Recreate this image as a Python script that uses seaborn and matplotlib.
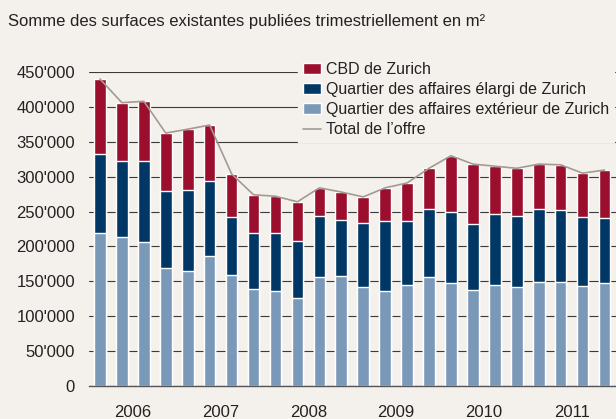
import matplotlib
matplotlib.use("Agg")
import matplotlib.pyplot as plt
import matplotlib.ticker as mticker
import numpy as np
import seaborn as sns

# quarterly values 2006 Q1 .. 2011 Q4 (m2)
quarters = [f"{y} T{q}" for y in range(2006, 2012) for q in range(1, 5)]
years = ["2006", "2007", "2008", "2009", "2010", "2011"]
exterieur = [219000, 213500, 206000, 169000, 165000, 186000, 159000, 139000,
             136000, 126000, 156000, 158000, 142000, 136000, 145000, 156000,
             148000, 138000, 145000, 142000, 149000, 149000, 143000, 148000]
elargi = [113500, 108500, 116000, 110500, 116000, 108000, 83000, 80000,
          83000, 82000, 88000, 80000, 92000, 100500, 91500, 98000,
          101000, 94000, 101500, 101500, 105000, 103000, 99000, 93000]
cbd = [107500, 84000, 86000, 83000, 87000, 80000, 62000, 55000,
       53000, 56000, 40000, 40000, 37000, 47500, 54500, 58000,
       81000, 86000, 68500, 68500, 64000, 65000, 63000, 68500]

bg = "#F4F0EC"
red = "#9B0E2D"
dark = "#003764"
light = "#7A99B8"
grey_line = "#A39A92"

sns.set_style("white")
plt.rcParams["font.family"] = ["Liberation Sans", "DejaVu Sans"]

low = np.array(exterieur)
mid = low + np.array(elargi)
total = mid + np.array(cbd)

fig = plt.figure(figsize=(6.16, 4.19), dpi=100, facecolor=bg)
ax = fig.add_axes([89 / 616, 33 / 419, 526.5 / 616, 314 / 419])
ax.set_facecolor(bg)

# stacked bars by overlapping cumulative heights
sns.barplot(x=quarters, y=total, color=red, width=0.53, saturation=1,
            label="CBD de Zurich", ax=ax, zorder=2)
sns.barplot(x=quarters, y=mid, color=dark, width=0.53, saturation=1,
            label="Quartier des affaires élargi de Zurich", ax=ax, zorder=2)
sns.barplot(x=quarters, y=low, color=light, width=0.53, saturation=1,
            label="Quartier des affaires extérieur de Zurich", ax=ax, zorder=2)
sns.lineplot(x=np.arange(len(quarters)), y=total, color=grey_line, lw=1.2,
             label="Total de l\u2019offre", ax=ax, zorder=3)

ax.set_xlim(-0.5, len(quarters) - 0.5)
ax.set_ylim(0, 450000)
ax.set_yticks(np.arange(0, 450001, 50000))
ax.yaxis.set_major_formatter(
    mticker.FuncFormatter(lambda v, p: f"{int(v):,}".replace(",", "'")))
ax.yaxis.grid(True, color="#3a3a3a", lw=0.8, zorder=0)
ax.set_axisbelow(True)

ax.set_xticks(np.arange(1.5, 24, 4))
ax.set_xticklabels(years)
ax.set_xticks(np.arange(-0.5, 24, 4), minor=True)
ax.tick_params(axis="x", which="major", length=0, pad=14, labelsize=12,
               colors="#222222")
ax.tick_params(axis="x", which="minor", length=5, width=0.9, color="#555555")
ax.tick_params(axis="y", length=0, pad=10, labelsize=12, colors="#222222")
ax.set_xlabel("")

for s in ["top", "right", "left"]:
    ax.spines[s].set_visible(False)
ax.spines["bottom"].set_color("#555555")
ax.spines["bottom"].set_linewidth(1.0)

handles, labels = ax.get_legend_handles_labels()
order = [labels.index(l) for l in
         ["CBD de Zurich", "Quartier des affaires élargi de Zurich",
          "Quartier des affaires extérieur de Zurich", "Total de l\u2019offre"]]
leg = ax.legend([handles[i] for i in order], [labels[i] for i in order],
                loc="upper left", bbox_to_anchor=(298 / 616, 1 - 57 / 419),
                bbox_transform=fig.transFigure, fontsize=11.5,
                frameon=True, facecolor=bg, edgecolor=bg, framealpha=1,
                fancybox=False, borderpad=0.3, borderaxespad=0,
                handlelength=1.15, handletextpad=0.3, labelspacing=0.32)
for t in leg.get_texts():
    t.set_color("#222222")

fig.text(8 / 616, 1 - 26 / 419,
         "Somme des surfaces existantes publiées trimestriellement en m\u00b2",
         fontsize=12, color="#222222", va="baseline", ha="left")

fig.savefig("out.png", dpi=100, facecolor=bg)
